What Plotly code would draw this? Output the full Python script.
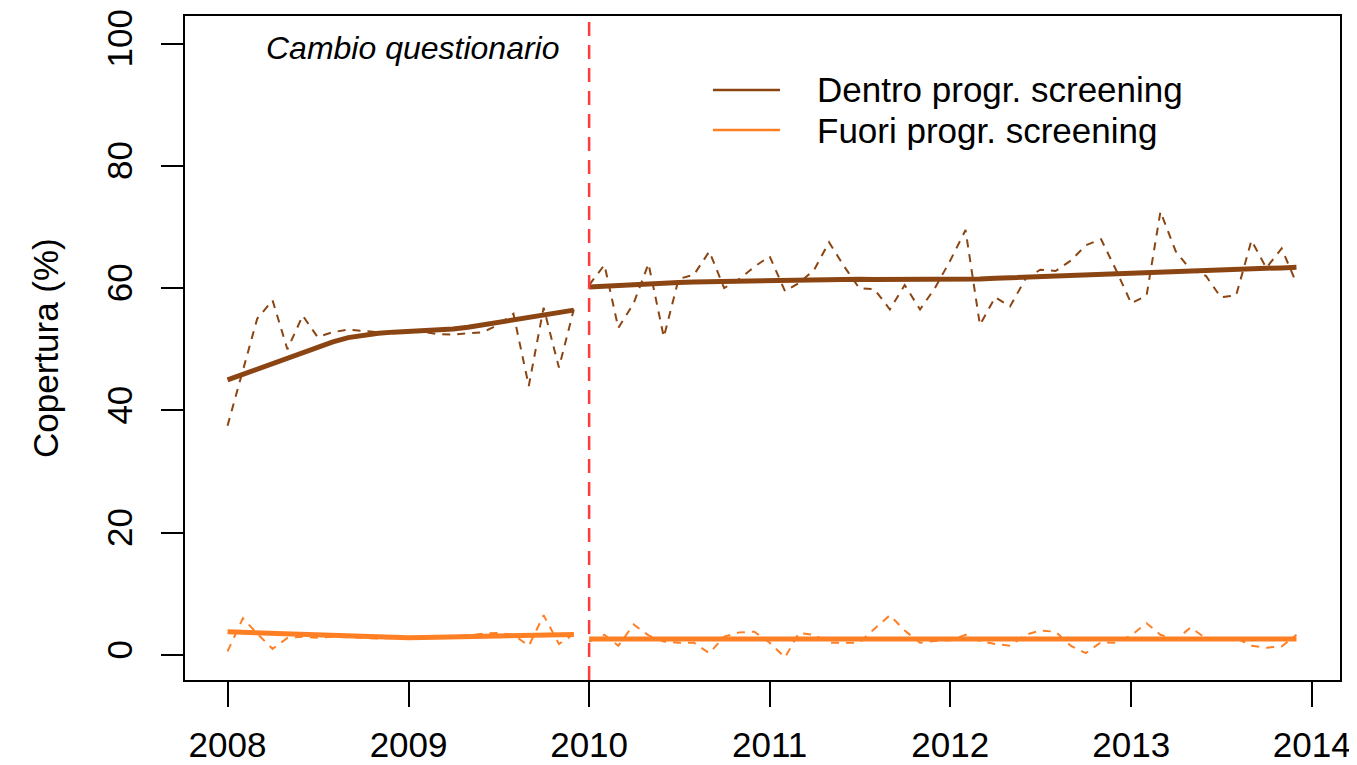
import plotly.graph_objects as go
import pandas as pd

# ── Monthly coverage, old questionnaire (2008-2009) ───────────
months_old = pd.date_range("2008-01-01", "2009-12-01", freq="MS")
dentro_old = [
    37.5, 46.5, 55.0, 58.0, 50.0, 55.5, 52.0, 52.8, 53.2, 53.0, 52.8, 52.8,
    53.0, 52.8, 52.5, 52.4, 52.6, 52.8, 54.0, 55.8, 44.0, 56.8, 47.0, 56.5,
]
dentro_old_smooth = [
    45.0, 45.9, 46.8, 47.7, 48.6, 49.5, 50.4, 51.2, 51.9, 52.3, 52.6, 52.8,
    52.9, 53.0, 53.1, 53.3, 53.6, 54.0, 54.4, 54.8, 55.2, 55.6, 56.0, 56.4,
]
fuori_old = [
    0.6, 6.0, 3.5, 1.0, 2.8, 3.0, 2.8, 3.0, 2.9, 2.8, 2.7, 2.8,
    2.8, 2.9, 3.0, 3.1, 3.2, 3.5, 3.6, 3.3, 1.5, 6.5, 1.8, 3.4,
]
fuori_old_smooth = [
    3.8, 3.7, 3.6, 3.5, 3.4, 3.3, 3.2, 3.1, 3.0, 2.9, 2.85, 2.8,
    2.8, 2.85, 2.9, 2.95, 3.0, 3.05, 3.1, 3.15, 3.2, 3.25, 3.3, 3.35,
]

# ── Monthly coverage, new questionnaire (2010-2013) ───────────
months_new = pd.date_range("2010-01-01", "2013-12-01", freq="MS")
dentro_new = [
    60.5, 63.8, 53.5, 57.5, 64.0, 52.0, 61.5, 62.2, 66.0, 60.0, 61.5, 63.5,
    65.2, 59.5, 60.8, 63.0, 67.5, 63.5, 60.0, 59.8, 56.5, 60.5, 56.5, 60.0,
    64.5, 69.5, 54.0, 58.5, 57.0, 61.5, 63.0, 62.8, 64.5, 67.0, 68.0, 63.0,
    57.5, 58.8, 72.5, 66.0, 63.0, 62.0, 58.5, 58.8, 67.8, 63.3, 66.5, 60.8,
]
dentro_new_smooth = [
    60.2, 60.35, 60.5, 60.6, 60.7, 60.8, 60.9, 61.0, 61.05, 61.1, 61.2, 61.25,
    61.3, 61.35, 61.4, 61.45, 61.5, 61.5, 61.45, 61.4, 61.4, 61.35, 61.35, 61.35,
    61.4, 61.45, 61.5, 61.6, 61.7, 61.8, 61.9, 62.0, 62.1, 62.2, 62.3, 62.4,
    62.5, 62.6, 62.7, 62.8, 62.9, 63.0, 63.05, 63.1, 63.2, 63.25, 63.3, 63.4,
]
fuori_new = [
    2.2, 3.3, 1.5, 5.0, 3.2, 2.2, 2.0, 2.0, 0.3, 3.0, 3.7, 3.8,
    2.0, -0.4, 3.6, 3.3, 2.0, 2.0, 2.0, 4.3, 6.5, 4.0, 2.0, 2.3,
    2.4, 3.3, 2.3, 1.8, 1.5, 3.3, 4.0, 3.8, 1.5, 0.3, 2.1, 2.0,
    3.2, 5.2, 3.3, 2.5, 4.5, 2.7, 2.8, 2.8, 1.5, 1.2, 1.4, 3.3,
]
fuori_new_smooth = [
    2.6, 2.6, 2.6, 2.6, 2.6, 2.55, 2.55, 2.55, 2.55, 2.5, 2.5, 2.5,
    2.5, 2.5, 2.5, 2.5, 2.45, 2.45, 2.45, 2.45, 2.45, 2.4, 2.4, 2.4,
    2.4, 2.4, 2.4, 2.45, 2.45, 2.45, 2.45, 2.5, 2.5, 2.5, 2.5, 2.5,
    2.5, 2.55, 2.55, 2.55, 2.55, 2.55, 2.6, 2.6, 2.6, 2.6, 2.6, 2.6,
]

series_names = ["Dentro progr. screening", "Fuori progr. screening"]
series_colors = ["#8B4513", "#FF7F24"]
y_ticks = [0, 20, 40, 60, 80, 100]
x_ticks = ["2008-01-01", "2009-01-01", "2010-01-01", "2011-01-01",
           "2012-01-01", "2013-01-01", "2014-01-01"]
x_labels = ["2008", "2009", "2010", "2011", "2012", "2013", "2014"]

FONT = "Liberation Sans, Arial, sans-serif"

fig = go.Figure()

groups = [
    (dentro_old, dentro_old_smooth, dentro_new, dentro_new_smooth),
    (fuori_old, fuori_old_smooth, fuori_new, fuori_new_smooth),
]
for name, color, (raw_o, sm_o, raw_n, sm_n) in zip(series_names, series_colors, groups):
    for months, raw, sm in [(months_old, raw_o, sm_o), (months_new, raw_n, sm_n)]:
        fig.add_trace(go.Scatter(
            x=months, y=raw, mode="lines", name=name, showlegend=False,
            line=dict(color=color, width=2, dash="8px,7px"),
        ))
        fig.add_trace(go.Scatter(
            x=months, y=sm, mode="lines", name=name, showlegend=False,
            line=dict(color=color, width=5),
        ))

# questionnaire change
fig.add_shape(type="line", xref="x", yref="paper",
              x0="2010-01-01", x1="2010-01-01", y0=0, y1=1,
              line=dict(color="#FF3B3B", width=2.5, dash="14px,9px"))

fig.add_annotation(x="2010-01-01", y=99.3, xref="x", yref="y",
                   text="<i>Cambio questionario</i>", showarrow=False,
                   xanchor="right", yanchor="middle", xshift=-27,
                   font=dict(size=32, color="black", family=FONT))

# hand-drawn legend (long line samples like the original)
leg_y = [0.8886, 0.8283]
for name, color, ly in zip(series_names, series_colors, leg_y):
    fig.add_shape(type="line", xref="paper", yref="paper",
                  x0=0.4571, x1=0.5152, y0=ly, y1=ly,
                  line=dict(color=color, width=2.5))
    fig.add_annotation(x=0.5455, y=ly, xref="paper", yref="paper",
                       text=name, showarrow=False,
                       xanchor="left", yanchor="middle",
                       font=dict(size=35, color="black", family=FONT))

fig.add_annotation(x=-0.1212, y=0.5, xref="paper", yref="paper",
                   text="Copertura (%)", textangle=-90, showarrow=False,
                   xanchor="center", yanchor="middle",
                   font=dict(size=35, color="black", family=FONT))

# the page adds an 8px body margin, so the figure is sized to fit inside it
fig.update_layout(
    width=1349, height=757,
    paper_bgcolor="white", plot_bgcolor="white",
    font=dict(family=FONT, color="black", size=35),
    showlegend=False,
    margin=dict(l=177, r=17, t=8, b=85, autoexpand=False),
)
fig.update_xaxes(
    type="date", range=["2007-10-07", "2014-02-27"],
    tickvals=x_ticks, ticktext=x_labels,
    showgrid=False, zeroline=False, automargin=False,
    showline=True, mirror=True, linecolor="black", linewidth=2,
    ticks="outside", ticklen=25, tickwidth=2, tickcolor="black",
    ticklabelstandoff=8, ticklabeloverflow="allow",
    tickfont=dict(size=35),
)
fig.update_yaxes(
    range=[-4.09, 104.5],
    tickvals=y_ticks,
    showgrid=False, zeroline=False, automargin=False,
    showline=True, mirror=True, linecolor="black", linewidth=2,
    ticks="outside", ticklen=22, tickwidth=2, tickcolor="black",
    tickangle=-90, ticklabelstandoff=15,
    tickfont=dict(size=35),
)

fig.write_html("out.html")
